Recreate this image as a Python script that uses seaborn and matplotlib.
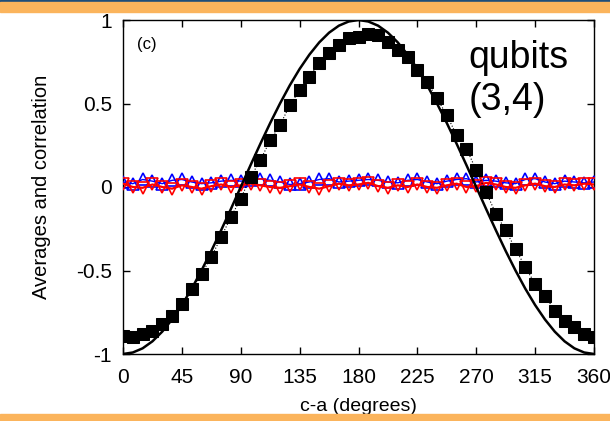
import numpy as np
import pandas as pd
import matplotlib
matplotlib.use("Agg")
import matplotlib.pyplot as plt
from matplotlib.patches import Rectangle
import seaborn as sns

# ---- data ----
angles = [i * 7.5 for i in range(49)]
correlation = [-0.89, -0.90, -0.88, -0.86, -0.82, -0.77, -0.70, -0.61, -0.52, -0.42, -0.30, -0.18,
               -0.07, 0.06, 0.16, 0.28, 0.37, 0.49, 0.58, 0.66, 0.74, 0.80, 0.85, 0.89,
               0.90, 0.915, 0.91, 0.87, 0.82, 0.78, 0.70, 0.63, 0.53, 0.43, 0.31, 0.23,
               0.10, -0.03, -0.16, -0.26, -0.37, -0.48, -0.58, -0.65, -0.74, -0.80, -0.84, -0.88, -0.90]
theory = [-1.0, -0.991, -0.966, -0.924, -0.866, -0.793, -0.707, -0.609, -0.5, -0.383, -0.259, -0.131,
          0.0, 0.131, 0.259, 0.383, 0.5, 0.609, 0.707, 0.793, 0.866, 0.924, 0.966, 0.991,
          1.0, 0.991, 0.966, 0.924, 0.866, 0.793, 0.707, 0.609, 0.5, 0.383, 0.259, 0.131,
          0.0, -0.131, -0.259, -0.383, -0.5, -0.609, -0.707, -0.793, -0.866, -0.924, -0.966, -0.991, -1.0]
avg_blue = [0.03, 0.02, 0.045, 0.035, 0.02, 0.04, 0.045, 0.03, 0.02, 0.025, 0.035, 0.04, 0.035,
            0.04, 0.05, 0.04, 0.03, 0.015, 0.02, 0.03, 0.045, 0.05, 0.03, 0.035, 0.04, 0.045,
            0.04, 0.03, 0.025, 0.04, 0.045, 0.03, 0.02, 0.035, 0.045, 0.05, 0.03, 0.04, 0.035,
            0.025, 0.02, 0.045, 0.05, 0.03, 0.02, 0.035, 0.03, 0.025, 0.03]
avg_red = [0.02, 0.0, -0.005, 0.015, 0.0, -0.01, 0.01, 0.0, -0.01, 0.005, 0.015, 0.0, 0.01,
           0.02, 0.01, 0.0, -0.005, 0.005, 0.015, 0.0, -0.01, 0.005, 0.02, 0.01, 0.015, 0.025,
           0.005, -0.005, 0.01, 0.0, 0.015, 0.0, -0.005, 0.01, 0.02, 0.0, 0.005, 0.025, 0.015,
           0.0, -0.005, 0.01, 0.02, 0.005, 0.0, 0.015, 0.01, 0.02, 0.015]
xticks = [0, 45, 90, 135, 180, 225, 270, 315, 360]
yticks = [-1, -0.5, 0, 0.5, 1]
ytick_labels = ["-1", "-0.5", "0", "0.5", "1"]

df = pd.DataFrame({"angle": angles, "corr": correlation, "theory": theory,
                   "blue": avg_blue, "red": avg_red})

sns.set_theme(style="ticks")
plt.rcParams["font.family"] = ["Liberation Sans", "DejaVu Sans"]
plt.rcParams["text.color"] = "black"
plt.rcParams["axes.labelcolor"] = "black"

fig = plt.figure(figsize=(6.10, 4.21), dpi=100)
fig.patch.set_facecolor("white")
# slide bands
fig.patches.append(Rectangle((0, 1 - 2 / 421), 1, 2 / 421, transform=fig.transFigure,
                             color="#1f4e79", zorder=0))
fig.patches.append(Rectangle((0, 1 - 12 / 421), 1, 10 / 421, transform=fig.transFigure,
                             color="#fbb45c", zorder=0))
fig.patches.append(Rectangle((0, 0), 1, 7 / 421, transform=fig.transFigure,
                             color="#fbb45c", zorder=0))

ax = fig.add_axes([123 / 610, (421 - 354) / 421, 471 / 610, 334 / 421])

sns.lineplot(data=df, x="angle", y="blue", ax=ax, color="blue", lw=1.0,
             marker="^", markersize=8.5, markerfacecolor="none", markeredgecolor="blue",
             markeredgewidth=1.2, zorder=3)
sns.lineplot(data=df, x="angle", y="red", ax=ax, color="red", lw=1.6,
             marker="v", markersize=8.5, markerfacecolor="none", markeredgecolor="red",
             markeredgewidth=1.2, zorder=4)
sns.lineplot(data=df, x="angle", y="theory", ax=ax, color="black", lw=1.8, zorder=5)
sns.lineplot(data=df, x="angle", y="corr", ax=ax, color="black", lw=0.8, ls=":",
             marker="s", markersize=8, markerfacecolor="black", markeredgecolor="black",
             zorder=6)

ax.set_xlim(0, 360)
ax.set_ylim(-1, 1)
ax.set_xticks(xticks)
ax.set_xticklabels([str(t) for t in xticks])
ax.set_yticks(yticks)
ax.set_yticklabels(ytick_labels)
ax.tick_params(direction="in", length=5, width=1, top=True, right=True,
               labelsize=15, colors="black")
ax.tick_params(axis="x", pad=10)
ax.tick_params(axis="y", pad=8)
for s in ax.spines.values():
    s.set_visible(True)
    s.set_linewidth(1.0)
    s.set_color("black")
ax.set_xlabel("c-a (degrees)", fontsize=14, labelpad=8)
ax.set_ylabel("Averages and correlation", fontsize=14.5, labelpad=18)

ax.text(0.03, 0.95, "(c)", transform=ax.transAxes, fontsize=12, ha="left", va="top")
ax.text(0.733, 0.94, "qubits\n(3,4)", transform=ax.transAxes, fontsize=27,
        ha="left", va="top", linespacing=1.2)

fig.savefig("out.png", dpi=100)
